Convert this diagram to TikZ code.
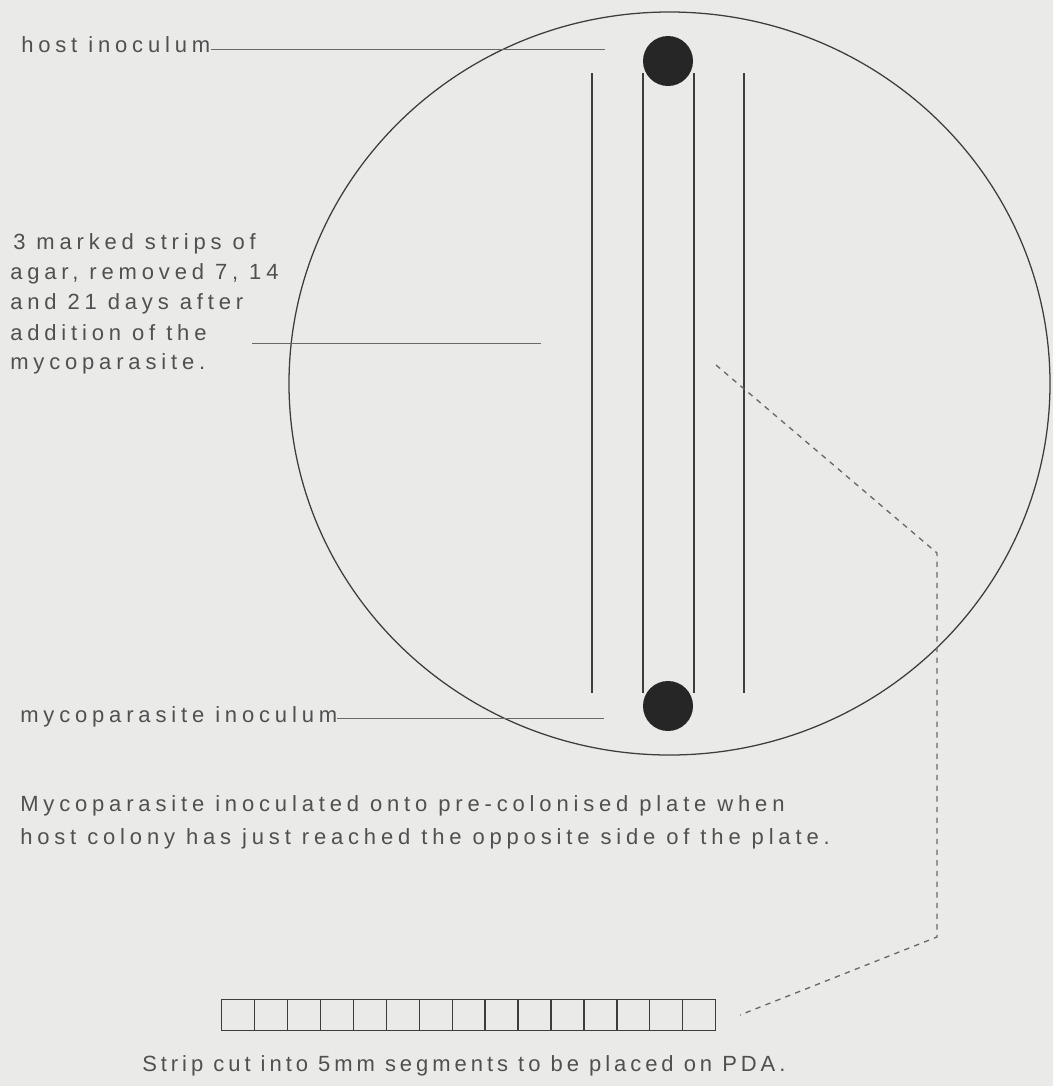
\documentclass[tikz,border=0pt]{standalone}
\usepackage{fontspec}
\newfontfamily\lbl{Liberation Sans}[LetterSpace=22]
\newfontfamily\caplbl{Liberation Sans}[LetterSpace=18]
\definecolor{paper}{RGB}{234,235,232}
\definecolor{ink}{RGB}{80,80,80}
\definecolor{linecol}{RGB}{60,62,60}
\definecolor{leadcol}{RGB}{105,105,105}
\definecolor{dotcol}{RGB}{38,38,38}
\begin{document}
\begin{tikzpicture}[x=0.75pt,y=-0.75pt,
  txt/.style={anchor=base west,inner sep=0pt,text=ink,font=\lbl\fontsize{16.5pt}{22.5pt}\selectfont},
  captxt/.style={txt,font=\caplbl\fontsize{16.5pt}{22.5pt}\selectfont},
  leader/.style={draw=leadcol,line width=0.6pt},
  stripline/.style={draw=linecol,line width=0.9pt},
  dashline/.style={draw=leadcol,line width=1pt,dash pattern=on 4pt off 4pt},
  segbox/.style={draw=linecol,line width=1pt,minimum width=24.7pt,minimum height=23.25pt,inner sep=0pt,anchor=north west},
  inoc/.style={circle,fill=dotcol,minimum size=37.5pt,inner sep=0pt}]
\fill[paper] (0,0) rectangle (1053,1086);
\useasboundingbox (0,0) rectangle (1053,1086);
% plate
\draw[linecol,line width=0.95pt] (669.5,383.5) ellipse [x radius=380.5, y radius=371.5];
% strips
\foreach \n/\x in {a/592,b/643,c/694,d/744}{
  \coordinate (top\n) at (\x,73);
  \coordinate (bot\n) at (\x,693);
  \draw[stripline] (top\n) -- (bot\n);
}
% inocula
\node[inoc] (hostdot) at (668,61) {};
\node[inoc] (mycodot) at (668,706) {};
% labels
\node[txt] (hostlbl) at (21,52) {host inoculum};
\coordinate (hostend) at (605,49);
\draw[leader] (hostlbl.base east |- hostend) -- (hostend);

\node[txt] (s1) at (13,249) {3 marked strips of};
\node[txt] (s2) at (10,279) {agar, removed 7, 14};
\node[txt] (s3) at (10,309) {and 21 days after};
\node[txt] (s4) at (10,340) {addition of the};
\node[txt] (s5) at (10,369) {mycoparasite.};
\coordinate (stripstart) at (252,343);
\coordinate (stripend) at (541,343);
\draw[leader] (stripstart) -- (stripend);

\node[txt] (mycolbl) at (20,722) {mycoparasite inoculum};
\coordinate (mycoend) at (604,718);
\draw[leader] (mycolbl.base east |- mycoend) -- (mycoend);

\node[txt] (p1) at (20,811) {Mycoparasite inoculated onto pre-colonised plate when};
\node[txt] (p2) at (20,844) {host colony has just reached the opposite side of the plate.};

% cut strip
\foreach \i in {0,...,14}{
  \node[segbox] (seg\i) at ({221+\i*32.93},999) {};
}
\node[captxt] (cap) at (142,1071) {Strip cut into 5mm segments to be placed on PDA.};

% dashed link
\coordinate (d0) at (716,365);
\coordinate (d1) at (937,553);
\coordinate (d2) at (937,937);
\coordinate (d3) at (740,1015);
\draw[dashline] (d0) -- (d1) -- (d2) -- (d3);
\end{tikzpicture}
\end{document}
